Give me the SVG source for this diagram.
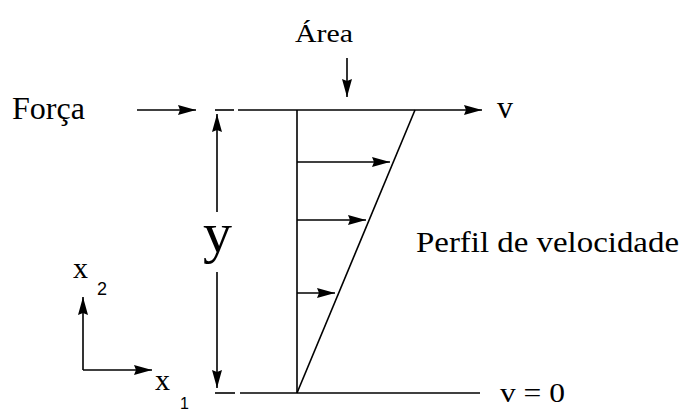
<svg xmlns="http://www.w3.org/2000/svg" width="679" height="413" viewBox="0 0 679 413">
<style>
.ln{stroke:#000;stroke-width:1.6;fill:none}
.ar{stroke:#000;stroke-width:1.6;fill:none;marker-end:url(#ah)}
.t{font-family:"Liberation Serif","Times New Roman",serif;fill:#000}
.s{font-family:"Liberation Sans",Arial,sans-serif;fill:#000}
</style>
<defs>
<marker id="ah" markerUnits="userSpaceOnUse" markerWidth="20" markerHeight="12" viewBox="-18 -6 19 12" refX="0" refY="0" orient="auto">
<path d="M0,0 L-18,-5 L-16,0 L-18,5 Z" fill="#000"/>
</marker>
</defs>
<rect width="679" height="413" fill="#fff"/>
<g id="connectors">
<line class="ar" x1="137" y1="110" x2="196" y2="110"/>
<line class="ln" x1="215" y1="110" x2="234" y2="110"/>
<line class="ar" x1="238" y1="110" x2="482" y2="110"/>
<line class="ar" x1="347" y1="58" x2="347" y2="97"/>
<line class="ar" x1="217" y1="212" x2="217" y2="114"/>
<line class="ar" x1="217" y1="272" x2="217" y2="388"/>
<line class="ln" x1="215" y1="393" x2="235" y2="393"/>
<line class="ln" x1="240" y1="393" x2="480" y2="393"/>
<line class="ln" x1="297" y1="110" x2="297" y2="393"/>
<line class="ln" x1="297" y1="393" x2="415" y2="110"/>
<line class="ar" x1="297" y1="162" x2="390" y2="162"/>
<line class="ar" x1="297" y1="220" x2="366" y2="220"/>
<line class="ar" x1="297" y1="293" x2="335" y2="293"/>
<line class="ar" x1="83" y1="370" x2="83" y2="297"/>
<line class="ar" x1="83" y1="370" x2="152" y2="370"/>
</g>
<g id="labels">
<text class="t" x="295" y="42" font-size="26" textLength="58" lengthAdjust="spacingAndGlyphs">Área</text>
<text class="t" x="12" y="119" font-size="32" textLength="73" lengthAdjust="spacingAndGlyphs">Força</text>
<text class="t" x="497" y="118" font-size="32">v</text>
<text class="t" x="203" y="252" font-size="58">y</text>
<text class="t" x="416" y="252" font-size="30" textLength="263" lengthAdjust="spacingAndGlyphs">Perfil de velocidade</text>
<text class="t" x="73" y="278" font-size="30">x</text>
<text class="s" x="97" y="295" font-size="18">2</text>
<text class="t" x="155" y="390" font-size="30">x</text>
<text class="s" x="180" y="409" font-size="16">1</text>
<text class="t" x="500" y="402" font-size="28" textLength="65" lengthAdjust="spacingAndGlyphs">v = 0</text>
</g>
</svg>
